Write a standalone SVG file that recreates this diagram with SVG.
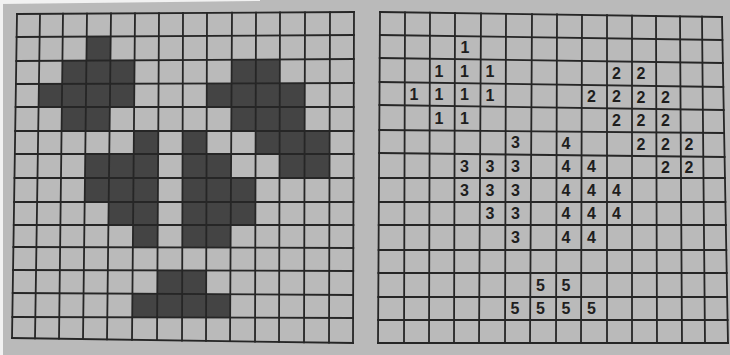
<svg xmlns="http://www.w3.org/2000/svg" width="730" height="355" viewBox="0 0 730 355">
<style>
.bg{fill:#bababa}
.sh{fill:#444444}
.gl{stroke:#262626;stroke-width:1.8;fill:none;stroke-linecap:square}
.n{font-family:"Liberation Sans",Arial,sans-serif;font-weight:bold;font-size:16px;fill:#1e1e1e;text-anchor:middle}
</style>
<rect class="bg" x="0" y="0" width="730" height="355"/>
<rect x="0" y="0" width="3" height="355" fill="#f2f2f2"/>
<polygon points="0,0 260,0 260,1 0,4" fill="#f2f2f2"/>

<g id="left-grid">
<g id="left-shaded">
<polygon class="sh" points="86.7,36.6 110.7,36.4 110.4,60.4 86.4,60.6"/>
<polygon class="sh" points="62.4,60.7 134.6,60.3 134.4,83.6 62.1,83.9"/>
<polygon class="sh" points="231.7,59.7 279.9,59.4 279.8,83.2 231.6,83.4"/>
<polygon class="sh" points="38.9,83.9 134.4,83.6 134.1,107 38.6,107"/>
<polygon class="sh" points="206.8,83.4 304.8,83.1 304.7,107 206.7,107"/>
<polygon class="sh" points="61.9,107 109.9,107 109.6,131 61.6,131"/>
<polygon class="sh" points="231.4,107 304.7,107 304.6,131 231.3,131"/>
<polygon class="sh" points="133.9,131 158.3,131 158.1,154 133.7,154"/>
<polygon class="sh" points="182.6,131 206.6,131 206.6,154 182.6,154"/>
<polygon class="sh" points="255.6,131 329.6,131 329.6,154 255.6,154"/>
<polygon class="sh" points="85.3,154 158.1,154 158,178 85,178"/>
<polygon class="sh" points="182.6,154 231.1,154 231,178 182.5,178"/>
<polygon class="sh" points="279.6,154 329.6,154 329.5,178 279.5,178"/>
<polygon class="sh" points="85,178 158,178 157.9,202 84.7,202"/>
<polygon class="sh" points="182.5,178 255.5,178 255.4,202 182.4,202"/>
<polygon class="sh" points="108.7,202 157.9,202 157.7,225 108.4,225"/>
<polygon class="sh" points="182.4,202 255.4,202 255.4,225 182.4,225"/>
<polygon class="sh" points="133.1,225 157.7,225 157.6,247.4 132.9,247.4"/>
<polygon class="sh" points="182.4,225 230.7,225 230.6,247.6 182.3,247.5"/>
<polygon class="sh" points="157.4,270.4 206.2,270.6 206.1,294.1 157.3,293.9"/>
<polygon class="sh" points="132.4,293.7 230.3,294.3 230.1,317.6 132.2,317.4"/>
</g>
<g id="left-lines" class="gl">
<path d="M17,14L12,338M40,13.9L35,338.4M63,13.7L59,338.7M87,13.6L83,339.1M111,13.4L107,339.4M135,13.3L132,339.8M159,13.1L157,340.1M183,13L182,340.5M207,12.9L206,340.9M232,12.7L230,341.2M256,12.6L255,341.6M280,12.4L279,341.9M305,12.3L304,342.3M330,12.1L329,342.6M354,12L353,343"/>
<path d="M17,14L354,12M16.6,37L353.9,35M16.3,61L353.9,59M15.9,84L353.8,83M15.6,107L353.7,107M15.2,131L353.6,131M14.9,154L353.6,154M14.5,178L353.5,178M14.1,202L353.4,202M13.8,225L353.4,225M13.4,247L353.3,248M13.1,270L353.2,271M12.7,293L353.1,295M12.4,317L353.1,318M12,338L353,343"/>
</g>
</g>

<g id="right-grid">
<g id="right-lines" class="gl">
<path d="M380,12L378,343M405,12.4L404,343M430,12.7L429,343M455,13.1L454,343M481,13.4L479,343M506,13.8L505,343M532,14.1L530,343M557,14.5L556,343M582,14.9L581,343M607,15.2L607,343M632,15.6L632,343M656,15.9L657,343M680,16.3L682,343M702,16.6L705,343M722,17L728,343"/>
<path d="M380,12L722,17M379.9,35L722.4,40M379.7,58L722.9,63M379.6,82L723.3,87M379.4,105L723.7,110M379.3,130L724.1,133M379.1,153L724.6,157M379,178L725,178M378.9,202L725.4,202M378.7,225L725.9,225M378.6,250L726.3,250M378.4,273L726.7,273M378.3,297L727.1,297M378.1,320L727.6,320M378,343L728,343"/>
</g>
<g id="right-numbers" class="n">
<text x="465" y="53">1</text>
<text x="439" y="76.5">1</text>
<text x="464.5" y="76.5">1</text>
<text x="490" y="77">1</text>
<text x="616.5" y="78.5">2</text>
<text x="641" y="79">2</text>
<text x="414" y="99.5">1</text>
<text x="439" y="99.5">1</text>
<text x="464.5" y="100">1</text>
<text x="490" y="100.5">1</text>
<text x="591.5" y="101.5">2</text>
<text x="616.5" y="102">2</text>
<text x="641" y="102.5">2</text>
<text x="665.5" y="103">2</text>
<text x="439" y="123.5">1</text>
<text x="464.5" y="124">1</text>
<text x="616.5" y="125.5">2</text>
<text x="641" y="126">2</text>
<text x="665.5" y="126">2</text>
<text x="515.5" y="148">3</text>
<text x="566" y="148.5">4</text>
<text x="641" y="149.5">2</text>
<text x="665.5" y="149.5">2</text>
<text x="689" y="150">2</text>
<text x="464.5" y="171.5">3</text>
<text x="490" y="171.5">3</text>
<text x="515.5" y="171.5">3</text>
<text x="566" y="172">4</text>
<text x="591.5" y="172">4</text>
<text x="665.5" y="172.5">2</text>
<text x="689" y="172.5">2</text>
<text x="464.5" y="195.5">3</text>
<text x="490" y="195.5">3</text>
<text x="515.5" y="195.5">3</text>
<text x="566" y="195.5">4</text>
<text x="591.5" y="195.5">4</text>
<text x="616.5" y="195.5">4</text>
<text x="490" y="219">3</text>
<text x="515.5" y="219">3</text>
<text x="566" y="219">4</text>
<text x="591.5" y="219">4</text>
<text x="616.5" y="219">4</text>
<text x="515.5" y="243">3</text>
<text x="566" y="243">4</text>
<text x="591.5" y="243">4</text>
<text x="540.5" y="290.5">5</text>
<text x="566" y="290.5">5</text>
<text x="515" y="314">5</text>
<text x="540.5" y="314">5</text>
<text x="566" y="314">5</text>
<text x="591.5" y="314">5</text>
</g>
</g>
</svg>
